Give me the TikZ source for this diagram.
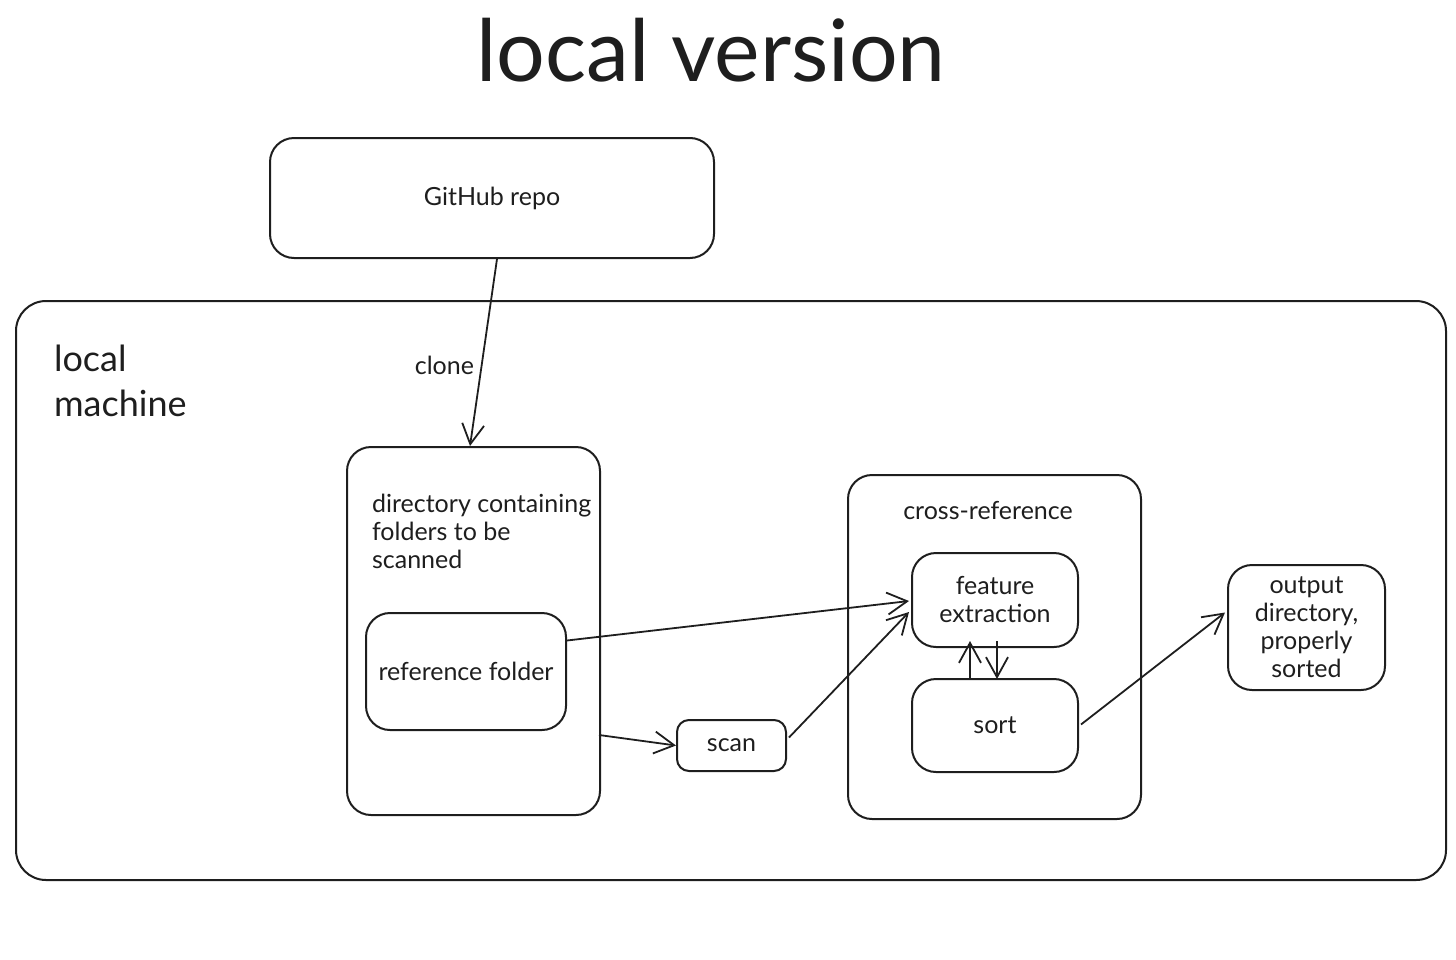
\documentclass[tikz,border=0pt]{standalone}
\usepackage{fontspec}
\setmainfont{Lato}
\usetikzlibrary{arrows.meta,calc}
\definecolor{ink}{HTML}{1E1E1E}

\begin{document}
\begin{tikzpicture}[x=0.5pt, y=-0.5pt,
    box/.style={draw=ink, line width=1pt, rounded corners=12pt, inner sep=0pt,
        align=center, text=ink, font=\fontsize{12.5}{14}\selectfont},
    lbl/.style={text=ink, font=\fontsize{12.5}{14}\selectfont},
    arr/.style={draw=ink, line width=0.9pt, -{Straight Barb[length=10pt, width=11pt]}}]
    \useasboundingbox (0, 0) rectangle (1456, 959);

    % 标题
    \node[text=ink, font=\fontsize{43}{50}\selectfont] (title) at (711, 50) {local version};

    % GitHub 仓库
    \node[box, minimum width=222pt, minimum height=60pt] (repo) at (492, 198) {GitHub repo};

    % 本地机器外框
    \node[box, rounded corners=15pt, minimum width=715pt, minimum height=289.5pt] (machine) at (731, 590.5) {};
    \node[lbl, anchor=north west, align=left, font=\fontsize{18}{22.5}\selectfont] (machinelbl) at (47, 338) {local\\machine};

    % 待扫描目录及参考文件夹
    \node[box, minimum width=126.5pt, minimum height=184pt] (dir) at (473.5, 631) {};
    \node[lbl, anchor=north west, align=left] (dirlbl) at (365, 487) {directory containing\\folders to be\\scanned};
    \node[box, minimum width=100pt, minimum height=58.5pt] (ref) at (466, 671.5) {reference folder};

    % 扫描
    \node[box, rounded corners=6pt, minimum width=54.5pt, minimum height=25.5pt] (scan) at (731.5, 745.5) {scan};

    % 交叉比对
    \node[box, minimum width=146.5pt, minimum height=172pt] (cross) at (994.5, 647) {};
    \node[lbl] (crosslbl) at (988, 511) {cross-reference};
    \node[box, minimum width=83pt, minimum height=47pt] (feat) at (995, 600) {feature\\extraction};
    \node[box, minimum width=83pt, minimum height=46.5pt] (sort) at (995, 725.5) {sort};

    % 输出目录
    \node[box, minimum width=78.5pt, minimum height=62.5pt] (out) at (1306.5, 627.5) {output\\directory,\\properly\\sorted};

    % 箭头
    \draw[arr] ($(repo.south)+(5,0)$) -- ($(dir.north)+(-3.5,0)$)
        node[lbl, pos=0.57, left] (clonelbl) {clone};
    \draw[arr] ($(ref.east)+(0,-31)$) -- ($(feat.west)+(-2,1)$);
    \draw[arr] ($(dir.east)+(-2,104)$) -- (scan.west);
    \draw[arr] ($(scan.east)+(2,-8)$) -- ($(feat.west)+(-2,12)$);
    \draw[arr] ($(sort.north)+(-25,0)$) -- ($(feat.south)+(-25,-7)$);
    \draw[arr] ($(feat.south)+(2,-7)$) -- ($(sort.north)+(2,1)$);
    \draw[arr] ($(sort.east)+(2,-1)$) -- ($(out.west)+(-2,-15)$);
\end{tikzpicture}
\end{document}
